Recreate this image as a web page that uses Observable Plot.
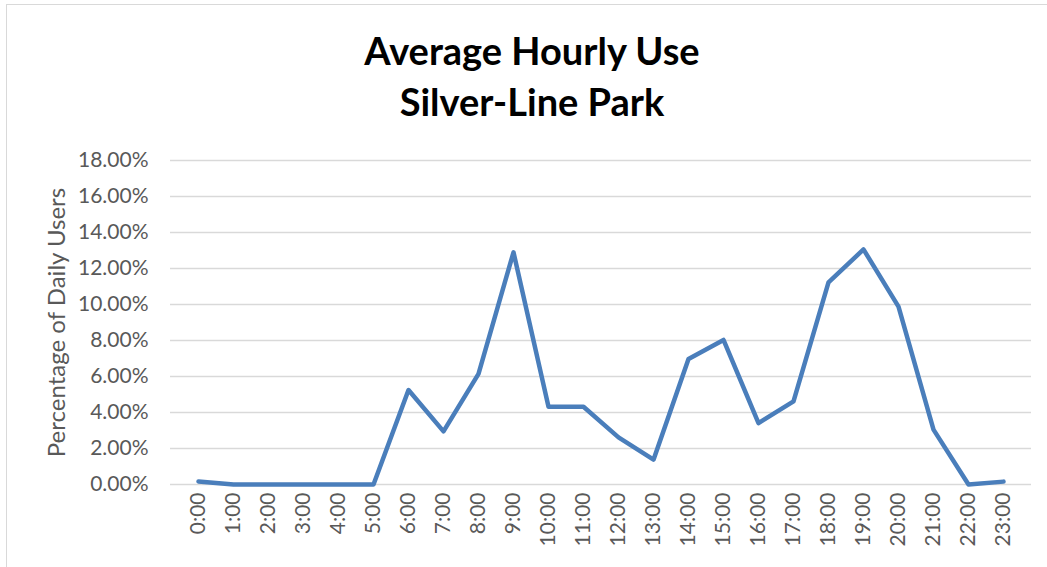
<!DOCTYPE html>
<html>
<head>
<meta charset="utf-8">
<script src="https://cdn.jsdelivr.net/npm/d3@7"></script>
<script src="https://cdn.jsdelivr.net/npm/@observablehq/plot@0.6"></script>
<style>
  html, body { margin: 0; padding: 0; background: #fff; }
  #wrap { position: relative; width: 1047px; height: 567px; overflow: hidden; font-family: Lato, "Open Sans", sans-serif; }
  #border { position: absolute; left: 6px; top: 4px; width: 1100px; height: 700px; border: 1px solid #d9d9d9; box-sizing: border-box; }
  #title { position: absolute; left: 0; width: 1064px; top: 25px; text-align: center; font-weight: bold; font-size: 38px; line-height: 51px; color: #000; }
  #chart { position: absolute; left: 0; top: 0; }
</style>
</head>
<body>
<div id="wrap">
  <div id="border"></div>
  <div id="chart"></div>
  <div id="title">Average Hourly Use<br>Silver-Line Park</div>
</div>
<script>
const hours = ["0:00","1:00","2:00","3:00","4:00","5:00","6:00","7:00","8:00","9:00","10:00","11:00",
               "12:00","13:00","14:00","15:00","16:00","17:00","18:00","19:00","20:00","21:00","22:00","23:00"];
const usage = [0.17, 0, 0, 0, 0, 0, 5.25, 2.95, 6.15, 12.9, 4.32, 4.32,
               2.62, 1.38, 6.97, 8.03, 3.41, 4.62, 11.23, 13.06, 9.88, 3.05, 0, 0.16];
const yTicks = [0, 2, 4, 6, 8, 10, 12, 14, 16, 18];

const data = hours.map((h, i) => ({hour: h, value: usage[i]}));

const chart = Plot.plot({
  width: 1047,
  height: 567,
  marginLeft: 170,
  marginRight: 16,
  marginTop: 160,
  marginBottom: 83,
  style: {fontFamily: "Lato, 'Open Sans', sans-serif", background: "transparent"},
  x: {type: "point", domain: hours, padding: 0.5},
  y: {domain: [0, 18]},
  marks: [
    Plot.gridY(yTicks, {stroke: "#d9d9d9", strokeOpacity: 1, strokeWidth: 1.5}),
    Plot.axisY(yTicks, {tickSize: 0, tickPadding: 22, tickFormat: d => d.toFixed(2) + "%",
      fontSize: 21, fill: "#595959", label: null}),
    Plot.axisX({tickSize: 0, tickPadding: 8, tickRotate: -90, fontSize: 21, fill: "#595959", label: null}),
    Plot.text(["Percentage of Daily Users"], {frameAnchor: "left", textAnchor: "middle", rotate: -90, dx: -113, fontSize: 24, fill: "#595959"}),
    Plot.line(data, {x: "hour", y: "value", stroke: "#4a7ebb", strokeWidth: 4.5, strokeLinejoin: "round", strokeLinecap: "round"})
  ]
});
document.getElementById("chart").appendChild(chart);
</script>
</body>
</html>
